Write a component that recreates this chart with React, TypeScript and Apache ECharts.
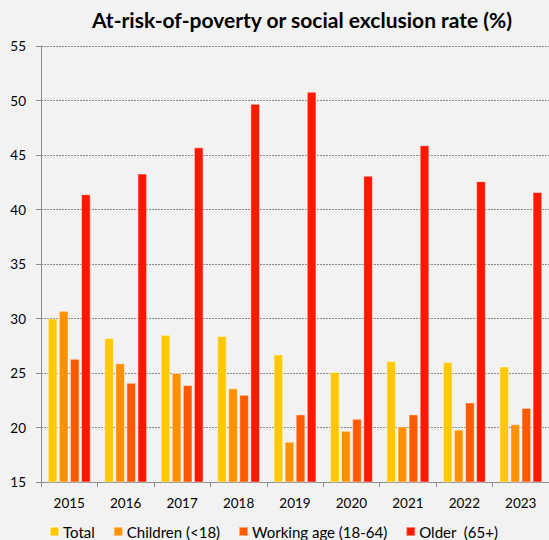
import React, { useEffect, useRef } from "react";
import * as echarts from "echarts";

const years = ["2015", "2016", "2017", "2018", "2019", "2020", "2021", "2022", "2023"];
const total = [30.0, 28.2, 28.5, 28.4, 26.7, 25.1, 26.1, 26.0, 25.6];
const children = [30.7, 25.9, 25.0, 23.6, 18.7, 19.7, 20.1, 19.8, 20.3];
const workingAge = [26.3, 24.1, 23.9, 23.0, 21.2, 20.8, 21.2, 22.3, 21.8];
const older = [41.4, 43.3, 45.7, 49.7, 50.8, 43.1, 45.9, 42.6, 41.6];

const seriesNames = ["Total", "Children (<18)", "Working age (18-64)", "Older  (65+)"];
const seriesData = [total, children, workingAge, older];
const colors = ["#FFC800", "#FF9100", "#FF5A00", "#FF1800"];

const FONT = "Lato, 'Open Sans', sans-serif";

export default function App() {
  const ref = useRef<HTMLDivElement>(null);
  useEffect(() => {
    if (!ref.current) return;
    const chart = echarts.init(ref.current, null, { renderer: "svg" });
    chart.setOption({
      animation: false,
      backgroundColor: "#F2F2F2",
      title: {
        text: "At-risk-of-poverty or social exclusion rate (%)",
        left: 302,
        textAlign: "center",
        top: 9,
        padding: 0,
        textStyle: { fontFamily: FONT, fontSize: 21, fontWeight: "bold", color: "#000" },
      },
      legend: {
        data: seriesNames,
        left: 49,
        top: 524,
        padding: 0,
        itemWidth: 9,
        itemHeight: 9,
        itemGap: 18,
        icon: "rect",
        textStyle: { fontFamily: FONT, fontSize: 15, color: "#000", padding: [0, 0, 0, -1] },
      },
      grid: { left: 41, right: -8, top: 46, bottom: 58, containLabel: false },
      xAxis: {
        type: "category",
        data: years,
        axisLine: { lineStyle: { color: "#8C8C8C", width: 1 } },
        axisTick: { show: true, length: 5, lineStyle: { color: "#8C8C8C" } },
        axisLabel: { fontFamily: FONT, fontSize: 13.5, color: "#000", margin: 14 },
      },
      yAxis: {
        type: "value",
        min: 15,
        max: 55,
        interval: 5,
        axisLine: { show: true, lineStyle: { color: "#8C8C8C", width: 1 } },
        axisTick: { show: true, length: 5, lineStyle: { color: "#8C8C8C" } },
        splitLine: { lineStyle: { color: "#8A8A8A", type: [2, 1], width: 1 } },
        axisLabel: { fontFamily: FONT, fontSize: 13.5, color: "#000", margin: 15 },
      },
      series: seriesData.map((d, i) => ({
        name: seriesNames[i],
        type: "bar",
        data: d,
        barGap: "15%",
        barCategoryGap: "24%",
        itemStyle: {
          color: colors[i],
          borderColor: "rgba(255,255,255,0.45)",
          borderWidth: 1,
        },
      })),
    });
    return () => chart.dispose();
  }, []);
  return <div ref={ref} style={{ width: 549, height: 540, position: "absolute", left: 0, top: 0 }} />;
}
